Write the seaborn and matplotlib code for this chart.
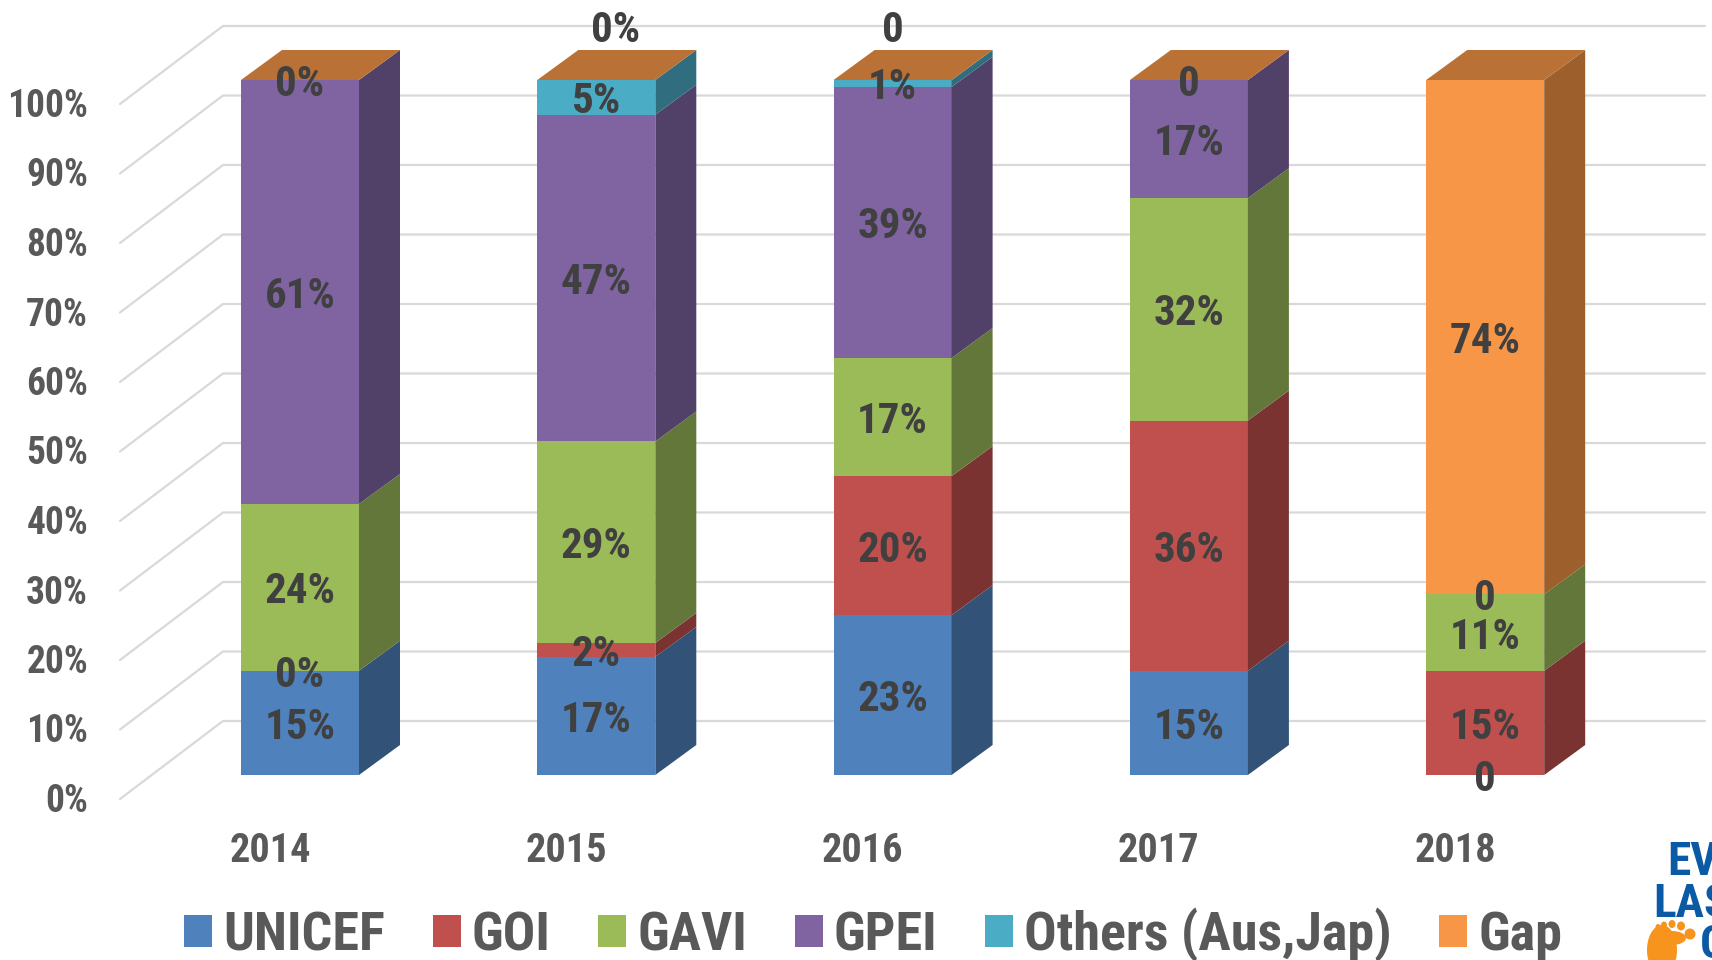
import matplotlib.pyplot as plt
import matplotlib.transforms as mtrans
import numpy as np
import seaborn as sns
from matplotlib.colors import to_rgb
from matplotlib.patches import Ellipse

years = ["2014", "2015", "2016", "2017", "2018"]
funders = ["UNICEF", "GOI", "GAVI", "GPEI", "Others (Aus,Jap)", "Gap"]
colors = ["#4F81BD", "#C0504D", "#9BBB59", "#8064A2", "#4BACC6", "#F79646"]

unicef = [15, 17, 23, 15, 0]
goi = [0, 2, 20, 36, 15]
gavi = [24, 29, 17, 32, 11]
gpei = [61, 47, 39, 17, 0]
others = [0, 5, 1, 0, 0]
gap = [0, 0, 0, 0, 74]
shares = [unicef, goi, gavi, gpei, others, gap]

# the labels as printed on the chart, None where nothing is printed
unicef_labels = ["15%", "17%", "23%", "15%", "0"]
goi_labels = ["0%", "2%", "20%", "36%", "15%"]
gavi_labels = ["24%", "29%", "17%", "32%", "11%"]
gpei_labels = ["61%", "47%", "39%", "17%", "0"]
others_labels = [None, "5%", "1%", None, None]
gap_labels = ["0%", "0%", "0", "0", "74%"]
labels = [unicef_labels, goi_labels, gavi_labels, gpei_labels, others_labels, gap_labels]

percent_ticks = list(range(0, 101, 10))

# reference pixels, the fake 3d is all measured from these
W, H = 1712, 960
AX_LEFT, AX_BOTTOM = 120, 810
BASE_PX, TOP_PX = 775, 80
FIRST_PX, STEP_PX = 300, 296.3
PX_Y = (BASE_PX - TOP_PX) / 100
BAR_W = 118 / STEP_PX
DEPTH_X = 41 / STEP_PX
DEPTH_Y = 30 / PX_Y

sns.set_theme(style="white")
plt.rcParams["font.family"] = ["Roboto Condensed", "Liberation Sans", "DejaVu Sans"]
plt.rcParams["font.weight"] = "bold"

fig = plt.figure(figsize=(W / 100, H / 100), dpi=100)
ax = fig.add_axes([AX_LEFT / W, 1 - AX_BOTTOM / H, 1 - AX_LEFT / W, AX_BOTTOM / H])

# walls
wall_x0 = (223 - FIRST_PX) / STEP_PX
wall_x1 = (1705 - FIRST_PX) / STEP_PX
floor_x = (120 - FIRST_PX) / STEP_PX
for tick in percent_ticks:
    ax.plot([floor_x, wall_x0, wall_x1], [tick - 24 / PX_Y, tick + 54 / PX_Y, tick + 54 / PX_Y],
            color="#D9D9D9", lw=1.6, zorder=1, clip_on=False)

# stacked fronts
bottoms = np.zeros(len(years))
for name, values, color in zip(funders, shares, colors):
    sns.barplot(x=years, y=values, bottom=bottoms, color=color, saturation=1, width=BAR_W,
                linewidth=0, label=name, zorder=3, ax=ax)
    bottoms = bottoms + np.array(values)

# side faces and the top
bottoms = np.zeros(len(years))
for values, color in zip(shares, colors):
    side = tuple(c * 0.635 for c in to_rgb(color))
    for i, v in enumerate(values):
        if v == 0:
            continue
        x = i + BAR_W / 2
        b = bottoms[i]
        ax.fill([x, x + DEPTH_X, x + DEPTH_X, x], [b, b + DEPTH_Y, b + v + DEPTH_Y, b + v],
                color=side, lw=0, zorder=3)
    bottoms = bottoms + np.array(values)

top_color = tuple(c * 0.75 for c in to_rgb(colors[-1]))
for i in range(len(years)):
    x0, x1 = i - BAR_W / 2, i + BAR_W / 2
    ax.fill([x0, x1, x1 + DEPTH_X, x0 + DEPTH_X], [100, 100, 100 + DEPTH_Y, 100 + DEPTH_Y],
            color=top_color, lw=0, zorder=3)

# data labels
bottoms = np.zeros(len(years))
for s, (values, texts) in enumerate(zip(shares, labels)):
    for i, (v, t) in enumerate(zip(values, texts)):
        if t is None:
            continue
        y = bottoms[i] + v / 2
        x = i
        if s == 5 and i in (1, 2):  # these two float above the bar
            y = y + 54 / PX_Y
        if s == 5 and i == 1:
            x = x + 19 / STEP_PX
        ax.text(x, y, t, ha="center", va="center_baseline", fontsize=31, fontweight="bold",
                color="#404040", zorder=5, clip_on=False)
    bottoms = bottoms + np.array(values)

ax.set_xlim((AX_LEFT - FIRST_PX) / STEP_PX, (W - FIRST_PX) / STEP_PX)
ax.set_ylim((BASE_PX - AX_BOTTOM) / PX_Y, BASE_PX / PX_Y)
ax.set_yticks(percent_ticks)
ax.set_yticklabels([f"{p}%" for p in percent_ticks])
ax.tick_params(axis="y", length=0, pad=23, labelsize=27, labelcolor="#595959")
ax.tick_params(axis="x", length=0, pad=16, labelsize=29, labelcolor="#595959")
sns.despine(ax=ax, left=True, bottom=True, top=True, right=True)

# tick labels sit on the floor of the fake 3d box, not at the front
y_shift = mtrans.ScaledTranslation(0, -22.5 / 100, fig.dpi_scale_trans)
for lab in ax.get_yticklabels():
    lab.set_transform(lab.get_transform() + y_shift)
x_shift = mtrans.ScaledTranslation(-30 / 100, 0, fig.dpi_scale_trans)
for lab in ax.get_xticklabels():
    lab.set_transform(lab.get_transform() + x_shift)

ax.legend(loc="center", bbox_to_anchor=(873 / W, 1 - 935 / H), bbox_transform=fig.transFigure,
          ncol=6, frameon=False, fontsize=39, labelcolor="#595959", handlelength=0.52,
          handleheight=0.52, handletextpad=0.2, columnspacing=0.88, borderpad=0, borderaxespad=0)

# cropped logo in the corner
logo_blue = "#0B5AA5"
fig.text(1667 / W, 1 - 875 / H, "EVERY", color=logo_blue, fontsize=34, fontweight="bold",
         ha="left", va="baseline")
fig.text(1653 / W, 1 - 917 / H, "LAST", color=logo_blue, fontsize=34, fontweight="bold",
         ha="left", va="baseline")
fig.text(1700 / W, 1 - 958 / H, "CHILD", color=logo_blue, fontsize=34, fontweight="bold",
         ha="left", va="baseline")
foot = [(1662, 950, 30, 50), (1690, 934, 11, 11), (1681, 926, 8, 9), (1672, 924, 7, 8),
        (1664, 925, 6, 7), (1658, 927, 5, 6), (1672, 938, 28, 14)]
for px, py, w, h in foot:
    fig.add_artist(Ellipse((px / W, 1 - py / H), w / W, h / H, color="#F7941E", lw=0,
                           transform=fig.transFigure))

fig.savefig("out.png", dpi=100)
